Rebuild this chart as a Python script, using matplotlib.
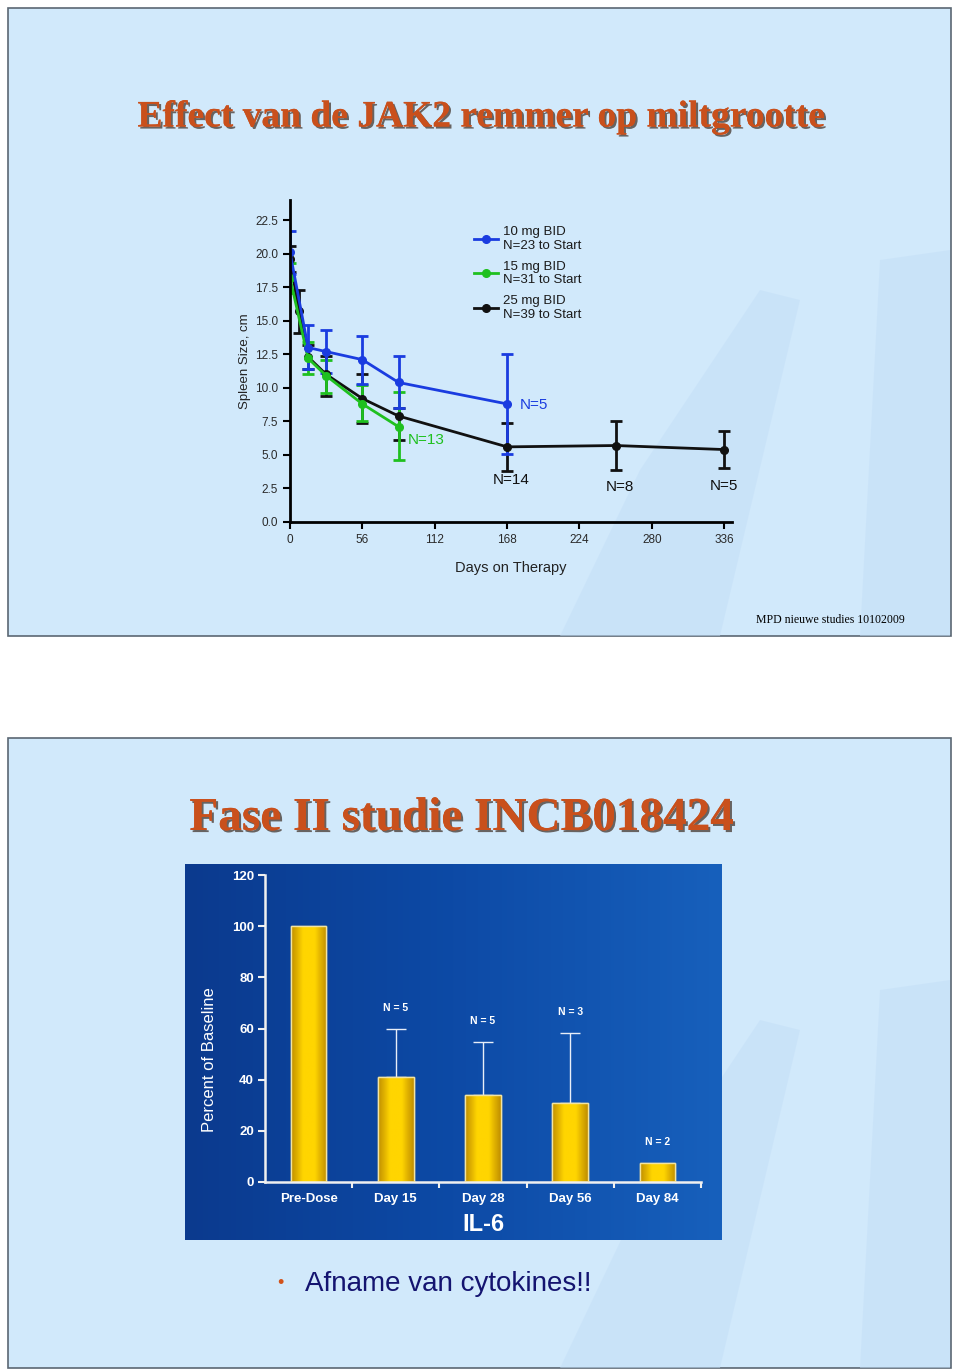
import numpy as np
import matplotlib
matplotlib.use("Agg")
import matplotlib.pyplot as plt
from matplotlib.patches import Rectangle, Polygon
from matplotlib.colors import LinearSegmentedColormap
import matplotlib.patheffects as pe

# ---- spleen size data ----
days_10 = [0, 14, 28, 56, 84, 168]
mean_10 = [20.1, 13.0, 12.7, 12.1, 10.4, 8.8]
hi_10 = [21.7, 14.7, 14.3, 13.9, 12.4, 12.5]
lo_10 = [18.5, 11.4, 11.1, 10.3, 8.5, 5.1]

days_15 = [0, 14, 28, 56, 84]
mean_15 = [18.2, 12.2, 10.9, 8.8, 7.1]
hi_15 = [19.3, 13.4, 12.1, 10.2, 9.7]
lo_15 = [17.1, 11.0, 9.6, 7.5, 4.6]

days_25 = [0, 7, 14, 28, 56, 84, 168, 252, 336]
mean_25 = [19.6, 15.7, 12.3, 11.0, 9.2, 7.9, 5.6, 5.7, 5.4]
hi_25 = [20.6, 17.3, 13.2, 12.4, 11.0, 8.5, 7.4, 7.5, 6.8]
lo_25 = [18.6, 14.1, 11.4, 9.4, 7.4, 6.1, 3.8, 3.9, 4.0]

legend_labels = ["10 mg BID\nN=23 to Start", "15 mg BID\nN=31 to Start", "25 mg BID\nN=39 to Start"]
x_ticks = [0, 56, 112, 168, 224, 280, 336]
y_ticks = [0.0, 2.5, 5.0, 7.5, 10.0, 12.5, 15.0, 17.5, 20.0, 22.5]

# ---- IL-6 data ----
il6_cats = ["Pre-Dose", "Day 15", "Day 28", "Day 56", "Day 84"]
il6_vals = [100, 41, 34, 31, 7.5]
il6_err = [0, 19, 20.8, 27.4, 0]
il6_n = ["", "N = 5", "N = 5", "N = 3", "N = 2"]

W, H = 960, 1372
fig = plt.figure(figsize=(W / 100, H / 100), dpi=100, facecolor="white")


def box(x0, y0, x1, y1):
    # pixel box (top-left origin) -> figure fraction [l, b, w, h]
    return [x0 / W, 1 - y1 / H, (x1 - x0) / W, (y1 - y0) / H]


def fx(x):
    return x / W


def fy(y):
    return 1 - y / H


slide_bg = "#d1e9fb"
wm = "#c3def7"

# slide backgrounds
for (x0, y0, x1, y1) in [(8, 8, 951, 636), (8, 738, 951, 1368)]:
    l, b, w, h = box(x0, y0, x1, y1)
    fig.patches.append(Rectangle((l, b), w, h, transform=fig.transFigure,
                                 facecolor=slide_bg, edgecolor="#5b6773", lw=1.2, zorder=-3))

# faint watermark shapes
wm_shapes = [
    [(560, 636), (640, 470), (760, 290), (800, 300), (720, 636)],
    [(880, 260), (950, 250), (950, 636), (860, 636)],
    [(560, 1368), (640, 1200), (760, 1020), (800, 1030), (720, 1368)],
    [(880, 990), (950, 980), (950, 1368), (860, 1368)],
]
for pts in wm_shapes:
    fig.patches.append(Polygon([(fx(x), fy(y)) for x, y in pts], closed=True,
                               transform=fig.transFigure, facecolor=wm,
                               edgecolor="none", alpha=0.5, zorder=-2))

title_col = "#c9501c"
shadow = [pe.withSimplePatchShadow(offset=(1.5, -1.5), shadow_rgbFace="#3b2a20", alpha=0.7),
          pe.Normal()]

fig.text(fx(481), fy(117), "Effect van de JAK2 remmer op miltgrootte",
         ha="center", va="center", fontsize=27, fontweight="bold",
         family="Liberation Serif", color=title_col, path_effects=shadow)
fig.text(fx(905), fy(620), "MPD nieuwe studies 10102009", ha="right", va="center",
         fontsize=8.5, family="Liberation Serif", color="black")

# ---- top chart ----
ax = fig.add_axes(box(290, 200, 732, 522))
ax.patch.set_alpha(0)
series = [
    (days_25, mean_25, lo_25, hi_25, "#111111"),
    (days_15, mean_15, lo_15, hi_15, "#1fc01f"),
    (days_10, mean_10, lo_10, hi_10, "#1a3ce0"),
]
handles = {}
for d, m, lo, hi, c in series:
    m = np.array(m)
    yerr = [m - np.array(lo), np.array(hi) - m]
    h = ax.errorbar(d, m, yerr=yerr, color=c, lw=2, marker="o", ms=5.5,
                    capsize=4, capthick=2, elinewidth=2)
    handles[c] = h[0]

leg = ax.legend([handles["#1a3ce0"], handles["#1fc01f"], handles["#111111"]], legend_labels,
                loc="upper left", bbox_to_anchor=(0.405, 0.935), frameon=False,
                prop={"family": "Liberation Sans", "size": 9.5}, handlelength=1.8,
                handletextpad=0.35, labelspacing=0.7, borderaxespad=0)
for t in leg.get_texts():
    t.set_color("#1a1a1a")
    t.set_linespacing(1.15)

ax.set_xlim(0, 342)
ax.set_ylim(0, 24)
ax.set_xticks(x_ticks)
ax.set_yticks(y_ticks)
ax.set_yticklabels([f"{v:.1f}" for v in y_ticks])
for s in ["top", "right"]:
    ax.spines[s].set_visible(False)
for s in ["left", "bottom"]:
    ax.spines[s].set_linewidth(2)
ax.tick_params(direction="out", length=5, width=1.5, labelsize=8.5, colors="black",
               labelcolor="#2a2a2a")
for lab in ax.get_xticklabels() + ax.get_yticklabels():
    lab.set_family("Liberation Sans")
ax.set_xlabel("Days on Therapy", fontsize=10.5, family="Liberation Sans", color="#222222",
              labelpad=11)
ax.set_ylabel("Spleen Size, cm", fontsize=9.5, family="Liberation Sans", color="#222222",
              labelpad=3)

nfont = dict(fontsize=11, family="Liberation Sans", va="center")
ax.text(178, 8.7, "N=5", color="#1a3ce0", **nfont)
ax.text(91, 6.1, "N=13", color="#1fc01f", **nfont)
ax.text(171, 3.1, "N=14", color="#111111", ha="center", **nfont)
ax.text(255, 2.6, "N=8", color="#111111", ha="center", **nfont)
ax.text(336, 2.7, "N=5", color="#111111", ha="center", **nfont)

# ---- bottom slide ----
fig.text(fx(462), fy(819), "Fase II studie INCB018424", ha="center", va="center",
         fontsize=34, fontweight="bold", family="Liberation Serif", color=title_col,
         path_effects=shadow)

# dark blue panel with gradient
pax = fig.add_axes(box(185, 864, 722, 1240))
panel_cmap = LinearSegmentedColormap.from_list("panel", ["#0b3a8e", "#0d4aa6", "#1760bc"])
pax.imshow(np.linspace(0, 1, 256)[None, :], cmap=panel_cmap, aspect="auto",
           extent=[0, 1, 0, 1])
pax.set_axis_off()

bax = fig.add_axes(box(265, 875, 701, 1182))
bax.patch.set_alpha(0)
x = np.arange(len(il6_cats))
bars = bax.bar(x, il6_vals, width=0.41, facecolor="#f2c200", edgecolor="#f5e7a8",
               lw=1, zorder=2)
bar_cmap = LinearSegmentedColormap.from_list("gold", ["#c08e00", "#ffd500", "#ffd500", "#c08e00"])
for b in bars:
    x0, w, hgt = b.get_x(), b.get_width(), b.get_height()
    im = bax.imshow(np.linspace(0, 1, 64)[None, :], cmap=bar_cmap, aspect="auto",
                    extent=[x0, x0 + w, 0, hgt], zorder=2.5)
    im.set_clip_path(b)
    bb = Rectangle((x0, 0), w, hgt, fill=False, edgecolor="#f3e4a0", lw=1, zorder=3)
    bax.add_patch(bb)

err_idx = [i for i, e in enumerate(il6_err) if e > 0]
bax.errorbar([x[i] for i in err_idx], [il6_vals[i] for i in err_idx],
             yerr=[[0] * len(err_idx), [il6_err[i] for i in err_idx]],
             fmt="none", ecolor="#e8eef8", elinewidth=1, capsize=7.5, capthick=1, zorder=1)
for i, n in enumerate(il6_n):
    if n:
        bax.text(x[i], il6_vals[i] + il6_err[i] + 6.0, n, ha="center", va="bottom",
                 color="white", fontsize=7.5, fontweight="bold", family="Liberation Sans")

bax.set_xlim(-0.5, 4.5)
bax.set_ylim(0, 120)
bax.set_yticks(range(0, 121, 20))
bax.set_xticks(x)
bax.set_xticklabels(il6_cats)
bax.set_xticks(np.arange(0.5, 5, 1), minor=True)
for s in ["top", "right"]:
    bax.spines[s].set_visible(False)
for s in ["left", "bottom"]:
    bax.spines[s].set_color("#f0f0f0")
    bax.spines[s].set_linewidth(1.8)
bax.tick_params(axis="x", which="major", length=0, pad=8)
bax.tick_params(axis="x", which="minor", length=4, width=1.5, color="#f0f0f0", direction="out")
bax.tick_params(axis="y", length=5, width=1.5, color="#f0f0f0", direction="out", pad=3)
for lab in bax.get_xticklabels() + bax.get_yticklabels():
    lab.set_color("white")
    lab.set_fontweight("bold")
    lab.set_family("Liberation Sans")
    lab.set_fontsize(9.5)
bax.set_ylabel("Percent of Baseline", color="white", fontsize=12, family="Liberation Sans")
bax.yaxis.set_label_coords(-0.11, 0.397)
bax.set_xlabel("IL-6", color="white", fontsize=17, fontweight="bold",
               family="Liberation Sans", labelpad=6)

fig.text(fx(280), fy(1284), "\u2022", color="#d2521a", fontsize=13, ha="center",
         va="center", family="Liberation Sans")
fig.text(fx(305), fy(1284), "Afname van cytokines!!", color="#141470", fontsize=20,
         ha="left", va="center", family="Liberation Sans")

fig.savefig("out.png", dpi=100, facecolor="white")
